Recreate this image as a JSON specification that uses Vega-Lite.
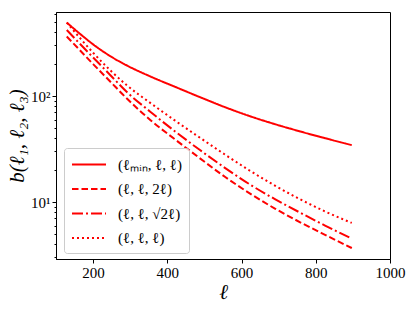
{
  "$schema": "https://vega.github.io/schema/vega-lite/v6.json",
  "width": 334,
  "height": 247,
  "autosize": {"type": "none"},
  "padding": {"left": 56, "top": 12, "right": 25, "bottom": 52},
  "background": "white",
  "config": {
    "view": {"stroke": "black", "strokeWidth": 1},
    "font": "Liberation Serif"
  },
  "data": {
    "values": [
      {"l": 129, "b": 493, "s": "(ℓₘᵢₙ, ℓ, ℓ)"},
      {"l": 165, "b": 385, "s": "(ℓₘᵢₙ, ℓ, ℓ)"},
      {"l": 200, "b": 307, "s": "(ℓₘᵢₙ, ℓ, ℓ)"},
      {"l": 246, "b": 238, "s": "(ℓₘᵢₙ, ℓ, ℓ)"},
      {"l": 291, "b": 194, "s": "(ℓₘᵢₙ, ℓ, ℓ)"},
      {"l": 354, "b": 153, "s": "(ℓₘᵢₙ, ℓ, ℓ)"},
      {"l": 421, "b": 122, "s": "(ℓₘᵢₙ, ℓ, ℓ)"},
      {"l": 488, "b": 97.5, "s": "(ℓₘᵢₙ, ℓ, ℓ)"},
      {"l": 556, "b": 78.3, "s": "(ℓₘᵢₙ, ℓ, ℓ)"},
      {"l": 623, "b": 64.4, "s": "(ℓₘᵢₙ, ℓ, ℓ)"},
      {"l": 691, "b": 54.1, "s": "(ℓₘᵢₙ, ℓ, ℓ)"},
      {"l": 758, "b": 46.3, "s": "(ℓₘᵢₙ, ℓ, ℓ)"},
      {"l": 825, "b": 40.0, "s": "(ℓₘᵢₙ, ℓ, ℓ)"},
      {"l": 897, "b": 34.4, "s": "(ℓₘᵢₙ, ℓ, ℓ)"},

      {"l": 129, "b": 364, "s": "(ℓ, ℓ, 2ℓ)"},
      {"l": 165, "b": 269, "s": "(ℓ, ℓ, 2ℓ)"},
      {"l": 200, "b": 200, "s": "(ℓ, ℓ, 2ℓ)"},
      {"l": 246, "b": 137, "s": "(ℓ, ℓ, 2ℓ)"},
      {"l": 291, "b": 94.7, "s": "(ℓ, ℓ, 2ℓ)"},
      {"l": 354, "b": 59.4, "s": "(ℓ, ℓ, 2ℓ)"},
      {"l": 421, "b": 38.9, "s": "(ℓ, ℓ, 2ℓ)"},
      {"l": 488, "b": 25.8, "s": "(ℓ, ℓ, 2ℓ)"},
      {"l": 556, "b": 17.2, "s": "(ℓ, ℓ, 2ℓ)"},
      {"l": 623, "b": 12.0, "s": "(ℓ, ℓ, 2ℓ)"},
      {"l": 691, "b": 8.63, "s": "(ℓ, ℓ, 2ℓ)"},
      {"l": 758, "b": 6.44, "s": "(ℓ, ℓ, 2ℓ)"},
      {"l": 825, "b": 4.90, "s": "(ℓ, ℓ, 2ℓ)"},
      {"l": 897, "b": 3.68, "s": "(ℓ, ℓ, 2ℓ)"},

      {"l": 129, "b": 419, "s": "(ℓ, ℓ, √2ℓ)"},
      {"l": 165, "b": 309, "s": "(ℓ, ℓ, √2ℓ)"},
      {"l": 200, "b": 231, "s": "(ℓ, ℓ, √2ℓ)"},
      {"l": 246, "b": 158, "s": "(ℓ, ℓ, √2ℓ)"},
      {"l": 291, "b": 109, "s": "(ℓ, ℓ, √2ℓ)"},
      {"l": 354, "b": 71.1, "s": "(ℓ, ℓ, √2ℓ)"},
      {"l": 421, "b": 46.3, "s": "(ℓ, ℓ, √2ℓ)"},
      {"l": 488, "b": 30.9, "s": "(ℓ, ℓ, √2ℓ)"},
      {"l": 556, "b": 20.9, "s": "(ℓ, ℓ, √2ℓ)"},
      {"l": 623, "b": 14.6, "s": "(ℓ, ℓ, √2ℓ)"},
      {"l": 691, "b": 10.6, "s": "(ℓ, ℓ, √2ℓ)"},
      {"l": 758, "b": 7.93, "s": "(ℓ, ℓ, √2ℓ)"},
      {"l": 825, "b": 6.00, "s": "(ℓ, ℓ, √2ℓ)"},
      {"l": 897, "b": 4.51, "s": "(ℓ, ℓ, √2ℓ)"},

      {"l": 129, "b": 493, "s": "(ℓ, ℓ, ℓ)"},
      {"l": 165, "b": 351, "s": "(ℓ, ℓ, ℓ)"},
      {"l": 200, "b": 256, "s": "(ℓ, ℓ, ℓ)"},
      {"l": 246, "b": 175, "s": "(ℓ, ℓ, ℓ)"},
      {"l": 291, "b": 126, "s": "(ℓ, ℓ, ℓ)"},
      {"l": 354, "b": 86.1, "s": "(ℓ, ℓ, ℓ)"},
      {"l": 421, "b": 58.5, "s": "(ℓ, ℓ, ℓ)"},
      {"l": 488, "b": 40.4, "s": "(ℓ, ℓ, ℓ)"},
      {"l": 556, "b": 27.9, "s": "(ℓ, ℓ, ℓ)"},
      {"l": 623, "b": 19.7, "s": "(ℓ, ℓ, ℓ)"},
      {"l": 691, "b": 14.2, "s": "(ℓ, ℓ, ℓ)"},
      {"l": 758, "b": 10.6, "s": "(ℓ, ℓ, ℓ)"},
      {"l": 825, "b": 8.15, "s": "(ℓ, ℓ, ℓ)"},
      {"l": 897, "b": 6.35, "s": "(ℓ, ℓ, ℓ)"}
    ]
  },
  "mark": {"type": "line", "color": "#ff0000", "strokeWidth": 2, "interpolate": "monotone", "clip": true},
  "encoding": {
    "x": {
      "field": "l", "type": "quantitative",
      "scale": {"domain": [100, 1000], "nice": false, "zero": false},
      "axis": {
        "title": "ℓ",
        "titleFont": "Liberation Serif", "titleFontSize": 21, "titleFontStyle": "italic", "titleFontWeight": "normal",
        "titleColor": "black", "titlePadding": 1,
        "values": [200, 400, 600, 800, 1000],
        "format": "d",
        "labelFont": "Liberation Serif", "labelFontSize": 15, "labelColor": "black",
        "labelPadding": 2,
        "tickSize": 4, "tickColor": "black", "tickWidth": 1,
        "domainColor": "black", "domainWidth": 1,
        "grid": false, "labelFlush": false
      }
    },
    "y": {
      "field": "b", "type": "quantitative",
      "scale": {"type": "log", "domain": [2.9, 620], "nice": false},
      "axis": {
        "title": "b(ℓ₁, ℓ₂, ℓ₃)",
        "titleFont": "Liberation Serif", "titleFontSize": 21, "titleFontStyle": "italic", "titleFontWeight": "normal",
        "titleColor": "black", "titlePadding": 3,
        "values": [3, 4, 5, 6, 7, 8, 9, 10, 20, 30, 40, 50, 60, 70, 80, 90, 100, 200, 300, 400, 500, 600],
        "labelExpr": "datum.value == 10 ? '10¹' : (datum.value == 100 ? '10²' : '')",
        "labelFont": "Liberation Serif", "labelFontSize": 15, "labelColor": "black",
        "labelPadding": 2,
        "tickSize": {"condition": {"test": "datum.value == 10 || datum.value == 100", "value": 4}, "value": 2},
        "tickColor": "black", "tickWidth": 1,
        "domainColor": "black", "domainWidth": 1,
        "grid": false, "labelFlush": false, "labelOverlap": false
      }
    },
    "strokeDash": {
      "field": "s", "type": "nominal",
      "scale": {
        "domain": ["(ℓₘᵢₙ, ℓ, ℓ)", "(ℓ, ℓ, 2ℓ)", "(ℓ, ℓ, √2ℓ)", "(ℓ, ℓ, ℓ)"],
        "range": [[1, 0], [6.5, 3], [11, 3, 2, 3], [2, 3]]
      },
      "legend": {
        "title": null,
        "orient": "none",
        "legendX": 8,
        "legendY": 136,
        "padding": 7,
        "fillColor": "rgba(255,255,255,0.8)",
        "strokeColor": "#cccccc",
        "cornerRadius": 3,
        "symbolType": "M-1,0H3",
        "symbolSize": 289,
        "symbolStrokeWidth": 2,
        "symbolStrokeColor": "#ff0000",
        "labelFont": "Liberation Serif",
        "labelFontSize": 15,
        "labelColor": "black",
        "labelOffset": 28,
        "rowPadding": 6.5
      }
    }
  }
}
